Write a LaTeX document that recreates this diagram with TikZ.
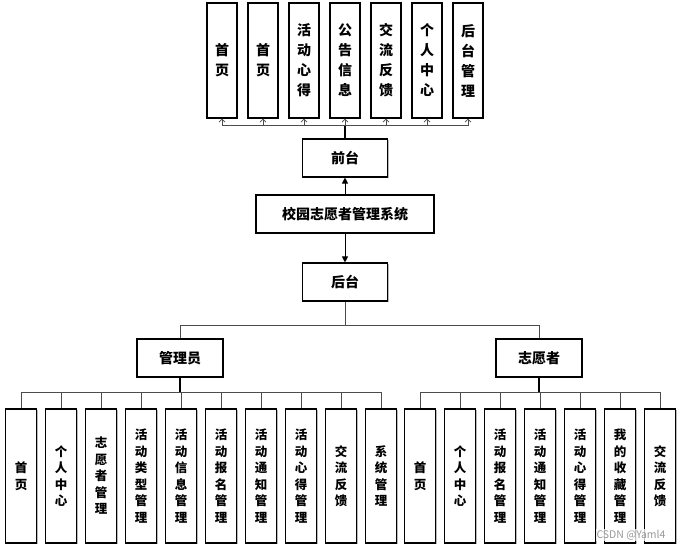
\documentclass[tikz,border=0pt]{standalone}
\usepackage{fontspec}
\setmainfont{Noto Sans CJK SC}
\usetikzlibrary{arrows.meta,shadows}
\begin{document}
\begin{tikzpicture}[x=1pt,y=-1pt,
  box/.style={draw=black,line width=1.1pt,fill=white,inner sep=0pt,align=center,
    drop shadow={shadow xshift=1.2pt,shadow yshift=-1.2pt,fill=gray!55,opacity=1},
    font=\bfseries\fontsize{14}{20}\selectfont},
  topbox/.style={box,minimum width=30pt,minimum height=115pt},
  midbox/.style={box,minimum width=85pt,minimum height=38pt},
  botbox/.style={box,minimum width=31pt,minimum height=134pt,font=\bfseries\fontsize{12.5}{16.5}\selectfont},
  bus/.style={draw=black!70,line width=1pt},
  trunk/.style={draw=black,line width=1.6pt},
  uparr/.style={bus,-{Straight Barb[length=3pt,width=6pt,line width=0.8pt]}},
  farr/.style={draw=black,line width=1pt,-{Triangle[length=6pt,width=6pt]}}
]
\useasboundingbox[fill=white] (0,0) rectangle (682,551);

% top row
\node[topbox] (t1) at (222,60.5) {首\\页};
\node[topbox] (t2) at (263,60.5) {首\\页};
\node[topbox] (t3) at (304,60.5) {活\\动\\心\\得};
\node[topbox] (t4) at (345,60.5) {公\\告\\信\\息};
\node[topbox] (t5) at (386,60.5) {交\\流\\反\\馈};
\node[topbox] (t6) at (427,60.5) {个\\人\\中\\心};
\node[topbox] (t7) at (468,60.5) {后\\台\\管\\理};

\node[midbox] (qt) at (345,158) {前台};
\node[box,minimum width=178pt,minimum height=38pt] (sys) at (345,214) {校园志愿者管理系统};
\node[midbox] (ht) at (345,282) {后台};

\node[midbox,minimum width=86pt] (adm) at (180,358) {管理员};
\node[midbox,minimum width=86pt] (vol) at (539,358) {志愿者};

% admin children
\node[botbox] (a1) at (21,476) {首\\页};
\node[botbox] (a2) at (61,476) {个\\人\\中\\心};
\node[botbox] (a3) at (101,476) {志\\愿\\者\\管\\理};
\node[botbox] (a4) at (141,476) {活\\动\\类\\型\\管\\理};
\node[botbox] (a5) at (181,476) {活\\动\\信\\息\\管\\理};
\node[botbox] (a6) at (221,476) {活\\动\\报\\名\\管\\理};
\node[botbox] (a7) at (261,476) {活\\动\\通\\知\\管\\理};
\node[botbox] (a8) at (301,476) {活\\动\\心\\得\\管\\理};
\node[botbox] (a9) at (341,476) {交\\流\\反\\馈};
\node[botbox] (a10) at (381,476) {系\\统\\管\\理};

% volunteer children
\node[botbox] (v1) at (420,476) {首\\页};
\node[botbox] (v2) at (460,476) {个\\人\\中\\心};
\node[botbox] (v3) at (500,476) {活\\动\\报\\名\\管\\理};
\node[botbox] (v4) at (540,476) {活\\动\\通\\知\\管\\理};
\node[botbox] (v5) at (580,476) {活\\动\\心\\得\\管\\理};
\node[botbox] (v6) at (620,476) {我\\的\\收\\藏\\管\\理};
\node[botbox] (v7) at (660,476) {交\\流\\反\\馈};

% bus coordinates
\coordinate (tbus) at (345,125);
\coordinate (mbus) at (345,325);
\coordinate (abus) at (180,392);
\coordinate (vbus) at (539,392);

% top connectors
\draw[trunk] (qt.north) -- (tbus);
\foreach \i in {1,...,7} {\draw[uparr] (tbus) -| (t\i.south);}

% system arrows
\draw[farr] (sys.north) -- (qt.south);
\draw[farr] (sys.south) -- (ht.north);

% backend split
\draw[bus] (ht.south) -- (mbus);
\draw[bus] (mbus) -| (adm.north);
\draw[bus] (mbus) -| (vol.north);

% admin
\draw[trunk] (adm.south) -- (abus);
\foreach \i in {1,...,10} {\draw[bus] (abus) -| (a\i.north);}

% volunteer
\draw[trunk] (vol.south) -- (vbus);
\foreach \i in {1,...,7} {\draw[bus] (vbus) -| (v\i.north);}

\node[text=black!40,fill=white,fill opacity=0.75,text opacity=1,inner sep=1pt,
  font=\fontsize{10.5}{11}\selectfont,anchor=center] (wm) at (631,535) {CSDN @Yaml4};
\end{tikzpicture}
\end{document}
